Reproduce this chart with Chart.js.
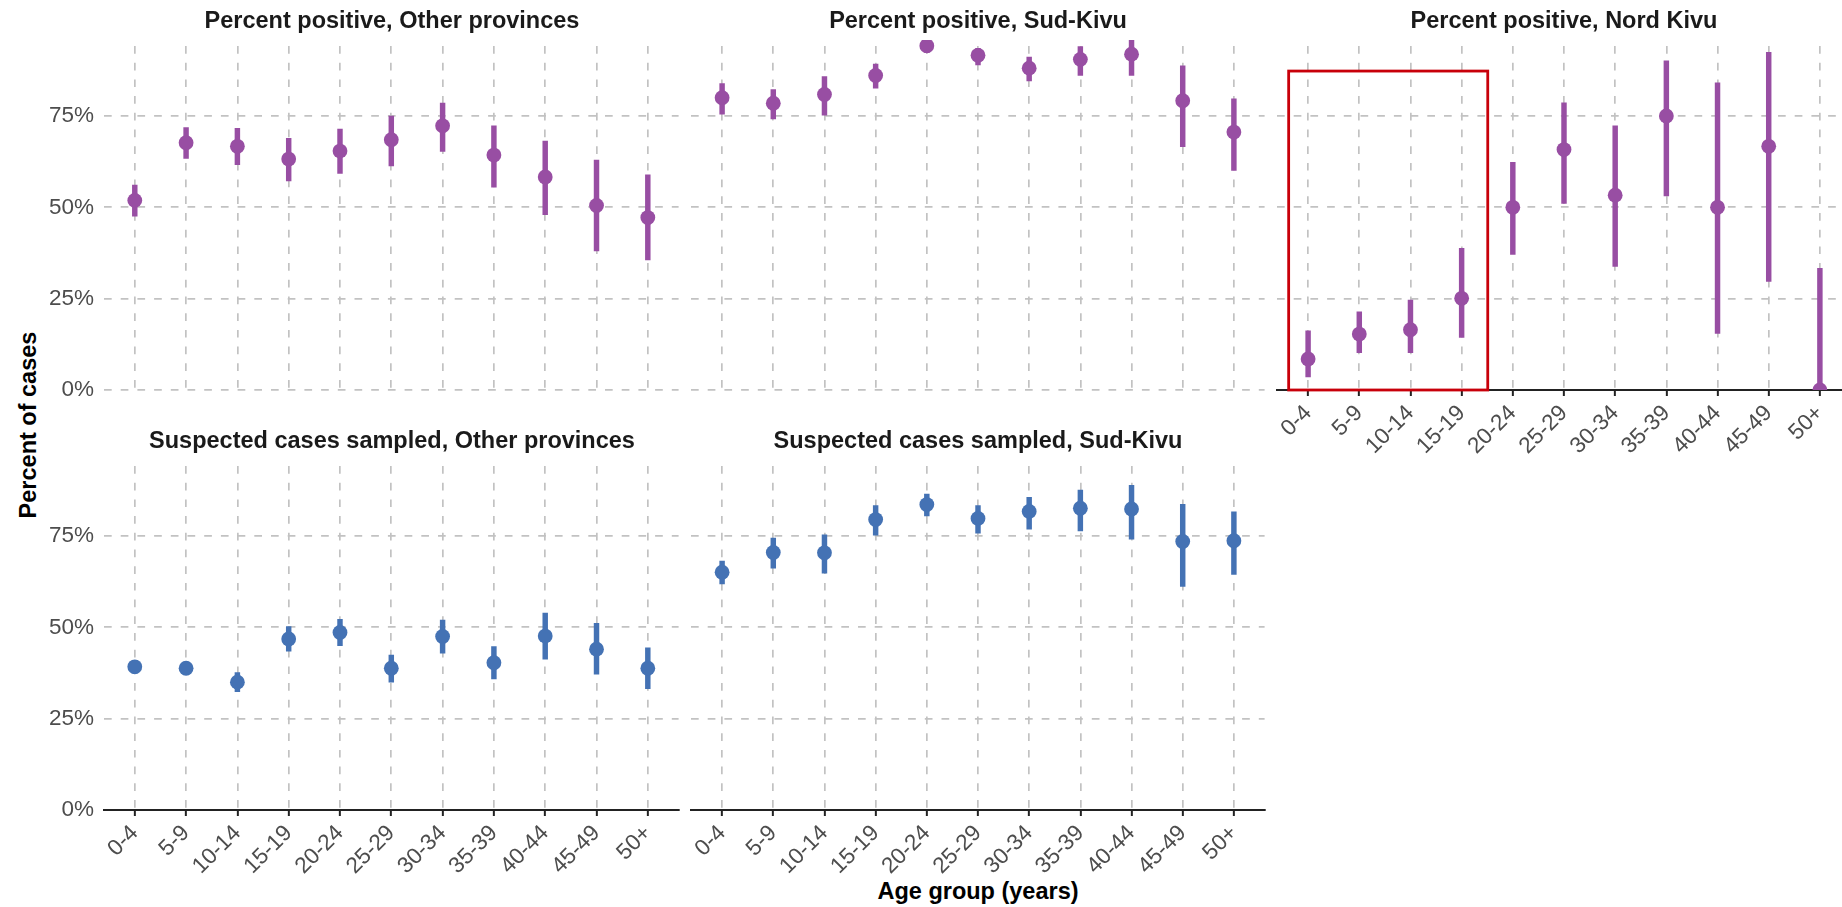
<!DOCTYPE html>
<html>
<head>
<meta charset="utf-8">
<title>Percent positive and suspected cases sampled, by age group</title>
<script src="https://cdn.jsdelivr.net/npm/chart.js@4.4.1/dist/chart.umd.min.js"></script>
<style>
  html, body { margin: 0; padding: 0; background: #fff; overflow: hidden; }
  body { width: 1842px; height: 907px; position: relative; font-family: 'Liberation Sans', Arial, sans-serif; }
  canvas { position: absolute; }
  .strip { position: absolute; text-align: center; font-weight: bold; font-size: 23.5px; line-height: 23.5px; color: #1a1a1a; white-space: nowrap; }
  .axis-title { position: absolute; font-weight: bold; font-size: 23.5px; line-height: 23.5px; color: #000; white-space: nowrap; }
</style>
</head>
<body>
<div class="axis-title" id="y-title" style="left:28.5px; top:425px; transform: translate(-50%, -50%) rotate(-90deg);">Percent of cases</div>
<div class="axis-title" id="x-title" style="left:978px; top:880px; transform: translateX(-50%);">Age group (years)</div>

<script>
// Age groups (x axis) and y tick values
const ageGroups = ['0-4', '5-9', '10-14', '15-19', '20-24', '25-29', '30-34', '35-39', '40-44', '45-49', '50+'];
const yTicks = [0, 25, 50, 75];
const yMax = 95.8;

// Percent positive, Other provinces (%)
const otherPosEst = [51.9, 67.7, 66.7, 63.2, 65.4, 68.5, 72.3, 64.3, 58.3, 50.5, 47.2];
const otherPosLo  = [47.6, 63.4, 61.7, 57.2, 59.3, 61.3, 65.3, 55.5, 48.0, 38.1, 35.6];
const otherPosHi  = [56.1, 71.8, 71.6, 68.9, 71.4, 75.0, 78.5, 72.3, 68.1, 62.9, 58.9];

// Percent positive, Sud-Kivu (%)
const sudPosEst = [80.0, 78.5, 80.9, 86.1, 94.2, 91.6, 88.1, 90.5, 91.9, 79.2, 70.6];
const sudPosLo  = [75.5, 74.2, 75.2, 82.6, 92.4, 89.0, 84.6, 86.1, 86.1, 66.6, 60.1];
const sudPosHi  = [83.9, 82.2, 85.8, 89.2, 96.5, 93.5, 91.1, 94.0, 97.0, 88.7, 79.7];

// Percent positive, Nord Kivu (%)
const nordPosEst = [8.5, 15.3, 16.5, 25.1, 50.0, 65.8, 53.3, 75.0, 50.0, 66.7, 0.0];
const nordPosLo  = [3.6, 10.2, 10.2, 14.4, 37.1, 51.1, 33.8, 53.1, 15.5, 29.7, 0.0];
const nordPosHi  = [16.2, 21.4, 24.6, 38.8, 62.3, 78.6, 72.3, 90.1, 84.1, 92.4, 33.3];

// Suspected cases sampled, Other provinces (%)
const otherSampEst = [39.2, 38.8, 35.0, 46.8, 48.6, 38.8, 47.5, 40.3, 47.6, 44.0, 38.8];
const otherSampLo  = [37.6, 37.3, 32.4, 43.5, 45.0, 35.0, 42.9, 35.9, 41.3, 37.2, 33.2];
const otherSampHi  = [40.9, 40.3, 37.6, 50.2, 52.2, 42.4, 52.0, 44.7, 53.9, 51.1, 44.4];

// Suspected cases sampled, Sud-Kivu (%)
const sudSampEst = [65.1, 70.5, 70.4, 79.5, 83.6, 79.8, 81.7, 82.6, 82.4, 73.5, 73.7];
const sudSampLo  = [61.9, 66.2, 64.8, 75.2, 80.5, 75.8, 76.9, 76.4, 74.1, 61.2, 64.5];
const sudSampHi  = [68.1, 74.4, 75.3, 83.3, 86.5, 83.3, 85.6, 87.6, 88.9, 83.7, 81.6];

// Highlighted age range in the Nord Kivu panel (x in category units, y in %)
const highlightFrom = -0.38;
const highlightTo = 3.51;
const highlightTop = 87.3;

const purple = '#984ea3';
const blue = '#4472b4';
const gridColor = '#c2c2c2';
const tickTextColor = '#4d4d4d';

const PANEL_W = 576;
const PANEL_H = 350;

const panels = [
  { title: 'Percent positive, Other provinces', est: otherPosEst, lo: otherPosLo, hi: otherPosHi, color: purple, left: 104, top: 40, yLabels: true, xLabels: false },
  { title: 'Percent positive, Sud-Kivu', est: sudPosEst, lo: sudPosLo, hi: sudPosHi, color: purple, left: 690, top: 40, yLabels: false, xLabels: false },
  { title: 'Percent positive, Nord Kivu', est: nordPosEst, lo: nordPosLo, hi: nordPosHi, color: purple, left: 1276, top: 40, yLabels: false, xLabels: true, highlight: true },
  { title: 'Suspected cases sampled, Other provinces', est: otherSampEst, lo: otherSampLo, hi: otherSampHi, color: blue, left: 104, top: 460, yLabels: true, xLabels: true },
  { title: 'Suspected cases sampled, Sud-Kivu', est: sudSampEst, lo: sudSampLo, hi: sudSampHi, color: blue, left: 690, top: 460, yLabels: false, xLabels: true }
];

Chart.defaults.font.family = "'Liberation Sans', Arial, sans-serif";
Chart.defaults.animation = false;

// red rectangle drawn through the chart's scales
const highlightBox = {
  id: 'highlightBox',
  afterDraw(chart, args, opts) {
    if (!opts.show) return;
    const { x, y } = chart.scales;
    const left = x.getPixelForValue(opts.xMin);
    const right = x.getPixelForValue(opts.xMax);
    const top = y.getPixelForValue(opts.yMax);
    const bottom = y.getPixelForValue(opts.yMin);
    const ctx = chart.ctx;
    ctx.save();
    ctx.strokeStyle = opts.color;
    ctx.lineWidth = opts.width;
    ctx.strokeRect(left, top, right - left, bottom - top);
    ctx.restore();
  }
};

function makePanel(p) {
  const padL = p.yLabels ? p.left : 6;
  const padR = 6;
  const padT = 30;
  const padB = p.xLabels ? 100 : 30;

  const canvas = document.createElement('canvas');
  canvas.width = PANEL_W + padL + padR;
  canvas.height = PANEL_H + padT + padB;
  canvas.style.width = canvas.width + 'px';
  canvas.style.height = canvas.height + 'px';
  canvas.style.left = (p.left - padL) + 'px';
  canvas.style.top = (p.top - padT) + 'px';
  document.body.appendChild(canvas);

  const strip = document.createElement('div');
  strip.className = 'strip';
  strip.textContent = p.title;
  strip.style.left = p.left + 'px';
  strip.style.width = PANEL_W + 'px';
  strip.style.top = (p.top - 31) + 'px';
  document.body.appendChild(strip);

  new Chart(canvas, {
    type: 'bar',
    data: {
      datasets: [
        {
          type: 'bar',
          data: p.est.map((_, i) => ({ x: i, y: [p.lo[i], p.hi[i]] })),
          backgroundColor: p.color,
          borderWidth: 0,
          barThickness: 4.8,
          clip: 0,
          order: 2
        },
        {
          type: 'line',
          data: p.est.map((v, i) => ({ x: i, y: v })),
          showLine: false,
          pointRadius: 7.4,
          pointBorderWidth: 0,
          pointBackgroundColor: p.color,
          borderColor: p.color,
          clip: 0,
          order: 1
        }
      ]
    },
    options: {
      responsive: false,
      events: [],
      layout: { padding: { left: p.yLabels ? 0 : padL, right: padR, top: padT, bottom: p.xLabels ? 0 : padB } },
      plugins: {
        legend: { display: false },
        tooltip: { enabled: false },
        highlightBox: { show: !!p.highlight, xMin: highlightFrom, xMax: highlightTo, yMin: 0, yMax: highlightTop, color: '#c8000a', width: 2.8 }
      },
      scales: {
        x: {
          type: 'linear',
          offset: false,
          min: -0.6,
          max: ageGroups.length - 0.4,
          afterBuildTicks: (scale) => { scale.ticks = ageGroups.map((_, i) => ({ value: i })); },
          afterFit: (scale) => { scale.height = p.xLabels ? padB : 0; },
          grid: {
            offset: false,
            color: gridColor,
            lineWidth: 1.7,
            drawTicks: p.xLabels,
            tickLength: 6,
            tickColor: '#222',
            tickWidth: 2
          },
          border: { display: p.xLabels, color: '#222', width: 2, dash: [7.7, 9], dashOffset: 10.7 },
          ticks: {
            display: p.xLabels,
            autoSkip: false,
            minRotation: 45,
            maxRotation: 45,
            padding: 4,
            color: tickTextColor,
            font: { size: 22.5 },
            callback: (v) => ageGroups[v]
          }
        },
        y: {
          min: 0,
          max: yMax,
          afterBuildTicks: (scale) => { scale.ticks = yTicks.map(v => ({ value: v })); },
          afterFit: (scale) => { scale.width = p.yLabels ? padL : 0; },
          grid: { color: gridColor, lineWidth: 1.7, drawTicks: false },
          border: { display: false, dash: [7.7, 9] },
          ticks: {
            display: p.yLabels,
            padding: 10,
            color: tickTextColor,
            font: { size: 22.5 },
            callback: (v) => v + '%'
          }
        }
      }
    },
    plugins: [highlightBox]
  });
}

panels.forEach(makePanel);
</script>
</body>
</html>
